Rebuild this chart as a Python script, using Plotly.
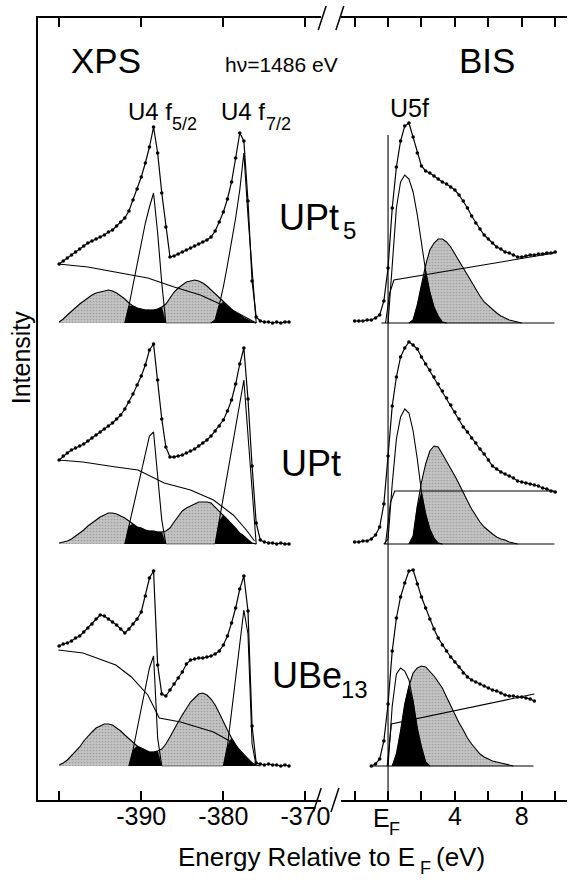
import numpy as np
import plotly.graph_objects as go

# ---------------- data (intensities in arbitrary units, baseline = 0) ----------------
xps_e = [-400, -399.5, -399, -398.5, -398, -397.5, -397, -396.5, -396, -395.5, -395, -394.5,
         -394, -393.5, -393, -392.5, -392, -391.5, -391, -390.5, -390, -389.5, -389, -388.5,
         -388, -387.5, -387, -386.5, -386, -385.5, -385, -384.5, -384, -383.5, -383, -382.5,
         -382, -381.5, -381, -380.5, -380, -379.5, -379, -378.5, -378, -377.5, -377, -376.5,
         -376, -375.5, -375, -374.5, -374, -373.5, -373, -372.5, -372]

bis_e = [-2, -1.75, -1.5, -1.25, -1, -0.75, -0.5, -0.25, 0, 0.25, 0.5, 0.75, 1, 1.25, 1.5, 1.75,
         2, 2.25, 2.5, 2.75, 3, 3.25, 3.5, 3.75, 4, 4.25, 4.5, 4.75, 5, 5.25, 5.5, 5.75,
         6, 6.25, 6.5, 6.75, 7, 7.25, 7.5, 7.75, 8, 8.25, 8.5, 8.75, 9, 9.25, 9.5, 9.75, 10]

# --- UPt5, XPS
upt5_xps_spec = [59, 62, 65, 68, 71, 74, 77, 80, 82, 84, 86, 88, 91, 93, 97, 101, 105, 112, 123,
                 134, 146, 160, 176, 196, 170, 130, 96, 66, 67, 69, 71, 73, 75, 77, 79, 81, 83,
                 86, 92, 101, 111, 124, 141, 165, 190, 182, 122, 42, 6, 2, 1, 1, 0, 1, 0, 1, 1]
upt5_xps_sat = [1, 4, 8, 12, 16, 19, 22, 25, 28, 30, 31, 32, 33, 32, 30, 27, 24, 20, 17, 15, 14,
                13, 13, 13, 14, 16, 19, 25, 31, 35, 38, 41, 42, 43, 42, 40, 37, 33, 29, 25, 21,
                17, 14, 10, 8, 5, 3, 1] + [0] * 9
upt5_xps_f52 = [0] * 16 + [0, 17, 38, 59, 80, 100, 116, 130, 90, 40, 0] + [0] * 30
upt5_xps_f72 = [0] * 38 + [3, 18, 36, 58, 80, 105, 133, 170, 107, 50, 0] + [0] * 8
upt5_xps_bg_e = [-400.1, -396.5, -393.2, -389.2, -386, -382.8, -379.6, -376.4, -376]
upt5_xps_bg = [59, 56, 51, 45, 36, 28, 16, 2, 0]

# --- UPt, XPS
upt_xps_spec = [84, 88, 91, 94, 96, 98, 100, 103, 106, 109, 112, 115, 118, 121, 125, 129, 135,
                142, 150, 159, 168, 179, 194, 200, 164, 125, 97, 87, 87, 88, 89, 91, 93, 95, 98,
                101, 104, 108, 113, 118, 124, 133, 144, 160, 180, 196, 145, 78, 21, 4, 2, 1, 1,
                0, 1, 0, 0]
upt_xps_sat = [1, 2, 3, 5, 8, 11, 14, 18, 21, 24, 27, 29, 31, 31, 30, 28, 26, 23, 20, 17, 16,
               14, 13, 13, 12, 12, 13, 16, 22, 28, 33, 36, 38, 40, 42, 42, 42, 41, 37, 33, 29,
               25, 20, 16, 11, 8, 4, 1] + [0] * 9
upt_xps_f52 = [0] * 16 + [0, 18, 36, 54, 72, 90, 108, 112, 64, 24, 0] + [0] * 30
upt_xps_f72 = [0] * 38 + [0, 23, 47, 70, 94, 117, 141, 164, 109, 55, 0] + [0] * 8
upt_xps_bg_e = [-400.1, -397.1, -393.1, -390.4, -387.2, -384.0, -381.2, -378.8, -377.2, -376.2]
upt_xps_bg = [84, 82, 77, 74, 61, 54, 44, 29, 14, 3]

# --- UBe13, XPS
ube13_xps_spec = [120, 122, 123, 125, 128, 130, 134, 138, 142, 147, 151, 150, 147, 144, 141,
                  137, 133, 137, 142, 147, 154, 170, 188, 195, 101, 72, 70, 76, 82, 88, 94, 102,
                  106, 107, 108, 108, 109, 110, 112, 115, 121, 130, 143, 158, 177, 190, 155, 40,
                  3, 2, 1, 2, 1, 1, 0, 1, 0]
ube13_xps_sat = [1, 3, 6, 10, 14, 19, 25, 30, 34, 38, 40, 42, 42, 41, 38, 35, 31, 27, 23, 20,
                 18, 16, 14, 14, 15, 17, 22, 29, 37, 44, 51, 57, 64, 68, 72, 73, 71, 67, 61, 53,
                 44, 36, 28, 21, 15, 10, 6, 3, 1] + [0] * 8
ube13_xps_f52 = [0] * 17 + [0, 16, 37, 57, 77, 98, 110, 28, 0] + [0] * 31
ube13_xps_f72 = [0] * 40 + [0, 20, 54, 88, 122, 156, 132, 22, 0] + [0] * 8
ube13_xps_bg_e = [-400.1, -397.1, -393.1, -391.2, -389.2, -387.8, -385.2, -381.2, -378.8, -376.4]
ube13_xps_bg = [116, 113, 101, 89, 71, 48, 44, 34, 23, 2]

# --- UPt5, BIS
upt5_bis_spec = [2, 2, 2, 3, 3, 5, 8, 22, 55, 115, 156, 182, 197, 200, 186, 170, 157, 152, 150,
                 147, 144, 141, 139, 136, 133, 128, 122, 115, 107, 100, 94, 88, 84, 80, 76, 74,
                 71, 70, 68, 66, 66, 67, 68, 68, 69, 69, 70, 70, 71]
upt5_bis_5f = [0] * 8 + [0, 54, 115, 141, 148, 144, 131, 108, 78, 52, 31, 16, 7, 1] + [0] * 27
upt5_bis_sat = [0] * 14 + [3, 18, 38, 58, 73, 80, 84, 84, 81, 76, 69, 62, 55, 48, 40, 33, 27,
                           21, 17, 13, 10, 7, 5, 3, 2, 1] + [0] * 9
upt5_bis_bg_e = [-0.15, 0.1, 0.35, 9.95]
upt5_bis_bg = [0, 30, 43, 70]
upt5_bis_base_e = [-0.4, 9.95]

# --- UPt, BIS
upt_bis_spec = [2, 2, 3, 3, 5, 9, 17, 40, 88, 138, 167, 187, 196, 202, 199, 195, 187, 180, 174,
                167, 160, 153, 146, 139, 132, 125, 117, 112, 106, 101, 95, 90, 84, 78, 75, 72,
                70, 68, 66, 63, 62, 61, 60, 59, 58, 56, 55, 53, 52]
upt_bis_5f = [0] * 8 + [5, 60, 105, 127, 135, 131, 113, 85, 52, 30, 15, 6, 1] + [0] * 28
upt_bis_sat = [0] * 14 + [8, 38, 62, 80, 93, 98, 97, 90, 83, 76, 68, 60, 51, 43, 35, 28, 22,
                          17, 13, 10, 7, 5, 4, 2, 1] + [0] * 10
upt_bis_bg_e = [-0.15, 0.15, 0.4, 9.95]
upt_bis_bg = [0, 42, 53, 53]
upt_bis_base_e = [-0.25, 9.95]

# --- UBe13, BIS
ube13_bis_spec_e = [-1, -0.75, -0.5, -0.25, 0, 0.25, 0.5, 0.75, 1, 1.25, 1.5, 1.75, 2, 2.25,
                    2.5, 2.75, 3, 3.25, 3.5, 3.75, 4, 4.25, 4.5, 4.75, 5, 5.25, 5.5, 5.75, 6,
                    6.25, 6.5, 6.75, 7, 7.25, 7.5, 7.75, 8, 8.25, 8.5, 8.75]
ube13_bis_spec = [0, 2, 7, 25, 62, 115, 148, 169, 183, 195, 196, 182, 169, 158, 147, 137, 128,
                  121, 115, 109, 104, 99, 93, 89, 86, 84, 82, 80, 78, 76, 75, 73, 71, 70, 70,
                  69, 69, 68, 67, 65]
ube13_bis_5f = [0] * 8 + [0, 60, 92, 98, 95, 86, 65, 38, 19, 4, 0] + [0] * 30
ube13_bis_sat = [0] * 10 + [12, 35, 62, 80, 93, 98, 100, 99, 95, 90, 84, 78, 69, 60, 51, 43, 36,
                            28, 22, 17, 12, 9, 7, 5, 4, 3, 2, 1] + [0] * 11
ube13_bis_bg_e = [-0.05, 0.2, 8.75]
ube13_bis_bg = [0, 42, 72]
ube13_bis_base_e = [-1.0, 8.7]

xps_tick_vals = [-390, -380, -370]
xps_tick_text = ["-390", "-380", "-370"]
xps_minor_ticks = [-400]
bis_tick_vals = [4, 8]
bis_tick_text = ["4", "8"]
bis_minor_ticks = [-2, 0, 2, 6, 10]

# ---------------- styling helpers ----------------
W, H = 576, 880
ML, MR, MT, MB = 38, 0, 18, 80
PW, PH = W - ML - MR, H - MT - MB


def px(x):
    return (x - ML) / PW


def py(y):
    return (H - MB - y) / PH


GREY = "rgb(196,196,196)"
LW = 1.1

fig = go.Figure()


def support(vals):
    nz = [i for i, v in enumerate(vals) if v > 0]
    lo = max(nz[0] - 1, 0)
    hi = min(nz[-1] + 2, len(vals))
    return lo, hi


def add_panel(xa, ya, e, sat, peaks, bg_e, bg, spec_e, spec, base_e=None):
    e = np.array(e, dtype=float)
    sat = np.array(sat, dtype=float)
    main = np.max(np.array(peaks, dtype=float), axis=0)
    black = np.minimum(sat, main)
    lo, hi = support(sat)
    fig.add_trace(go.Scatter(x=e[lo:hi], y=sat[lo:hi], mode="lines", fill="tozeroy",
                             fillcolor=GREY,
                             fillpattern=dict(shape=".", bgcolor=GREY, fgcolor="rgb(120,120,120)",
                                              size=3, solidity=0.25),
                             line=dict(color="black", width=LW),
                             xaxis=xa, yaxis=ya, hoverinfo="skip"))
    lo, hi = support(black)
    fig.add_trace(go.Scatter(x=e[lo:hi], y=black[lo:hi], mode="lines", fill="tozeroy",
                             fillcolor="black", line=dict(color="black", width=0.5),
                             xaxis=xa, yaxis=ya, hoverinfo="skip"))
    for p in peaks:
        p = np.array(p, dtype=float)
        lo, hi = support(p)
        fig.add_trace(go.Scatter(x=e[lo:hi], y=p[lo:hi], mode="lines",
                                 line=dict(color="black", width=LW),
                                 xaxis=xa, yaxis=ya, hoverinfo="skip"))
    if base_e is not None:
        fig.add_trace(go.Scatter(x=base_e, y=[0, 0], mode="lines",
                                 line=dict(color="black", width=LW),
                                 xaxis=xa, yaxis=ya, hoverinfo="skip"))
    fig.add_trace(go.Scatter(x=bg_e, y=bg, mode="lines", line=dict(color="black", width=LW),
                             xaxis=xa, yaxis=ya, hoverinfo="skip"))
    fig.add_trace(go.Scatter(x=spec_e, y=spec, mode="lines+markers",
                             line=dict(color="black", width=1.2),
                             marker=dict(color="black", size=3.6),
                             xaxis=xa, yaxis=ya, hoverinfo="skip"))


# rows: y4 = UPt5 (top), y3 = UPt, y2 = UBe13
add_panel("x", "y4", xps_e, upt5_xps_sat, [upt5_xps_f52, upt5_xps_f72],
          upt5_xps_bg_e, upt5_xps_bg, xps_e, upt5_xps_spec)
add_panel("x", "y3", xps_e, upt_xps_sat, [upt_xps_f52, upt_xps_f72],
          upt_xps_bg_e, upt_xps_bg, xps_e, upt_xps_spec)
add_panel("x", "y2", xps_e, ube13_xps_sat, [ube13_xps_f52, ube13_xps_f72],
          ube13_xps_bg_e, ube13_xps_bg, xps_e, ube13_xps_spec)
add_panel("x2", "y4", bis_e, upt5_bis_sat, [upt5_bis_5f],
          upt5_bis_bg_e, upt5_bis_bg, bis_e, upt5_bis_spec, upt5_bis_base_e)
add_panel("x2", "y3", bis_e, upt_bis_sat, [upt_bis_5f],
          upt_bis_bg_e, upt_bis_bg, bis_e, upt_bis_spec, upt_bis_base_e)
add_panel("x2", "y2", bis_e, ube13_bis_sat, [ube13_bis_5f],
          ube13_bis_bg_e, ube13_bis_bg, ube13_bis_spec_e, ube13_bis_spec, ube13_bis_base_e)

# empty traces so the frame subplots exist
fig.add_trace(go.Scatter(x=[], y=[], xaxis="x", yaxis="y"))
fig.add_trace(go.Scatter(x=[], y=[], xaxis="x2", yaxis="y"))

x_common = dict(anchor="y", showline=True, linecolor="black", linewidth=1.5, mirror="ticks",
                ticks="inside", ticklen=9, tickwidth=1.5, tickcolor="black",
                ticklabelstandoff=-7,
                showgrid=False, zeroline=False, tickfont=dict(size=25, color="black"),
                fixedrange=True)
minor_common = dict(ticks="inside", ticklen=9, tickwidth=1.5, tickcolor="black", showgrid=False)
row_y = dict(range=[-12, 212], anchor="x", visible=False, fixedrange=True)


def row_dom(base_px):
    b = py(base_px + 12)
    return [b, b + 224 / PH]


fig.update_layout(
    width=W, height=H, margin=dict(l=ML, r=MR, t=MT, b=MB, pad=0),
    paper_bgcolor="white", plot_bgcolor="white", showlegend=False,
    font=dict(family="Liberation Sans, Arial, sans-serif", color="black"),
    xaxis=dict(domain=[0, px(326)], range=[-390 + (ML - 143) / 8.35, -390 + (326 - 143) / 8.35],
               tickvals=xps_tick_vals, ticktext=xps_tick_text,
               minor=dict(tickvals=xps_minor_ticks, **minor_common), **x_common),
    xaxis2=dict(domain=[px(346), 1], range=[(346 - 394) / 17, (576 - 394) / 17],
                tickvals=bis_tick_vals, ticktext=bis_tick_text,
                minor=dict(tickvals=bis_minor_ticks, **minor_common), **x_common),
    yaxis=dict(domain=[0, 1], range=[0, 1], anchor="x", showline=True, linecolor="black",
               linewidth=1.5, showticklabels=False, ticks="", showgrid=False, zeroline=False,
               fixedrange=True),
    yaxis2=dict(domain=row_dom(766), **row_y),
    yaxis3=dict(domain=row_dom(544), **row_y),
    yaxis4=dict(domain=row_dom(323), **row_y),
)

# axis-break slashes and E_F marker line
shapes = []
for (x0, y0, x1, y1) in [(323, 30, 331, 6), (341, 30, 349, 6),
                         (318, 812, 326, 788), (336, 812, 344, 788)]:
    shapes.append(dict(type="line", xref="paper", yref="paper", x0=px(x0), y0=py(y0),
                       x1=px(x1), y1=py(y1), line=dict(color="black", width=1.5)))
shapes.append(dict(type="line", xref="x2", yref="paper", x0=0, x1=0, y0=0, y1=py(135),
                   line=dict(color="black", width=1.1)))
fig.update_layout(shapes=shapes)

ann = []


def text(x, y, s, size, xanchor="center", yanchor="middle", angle=0):
    ann.append(dict(x=px(x), y=py(y), xref="paper", yref="paper", text=s, showarrow=False,
                    font=dict(size=size, color="black"), xanchor=xanchor, yanchor=yanchor,
                    textangle=angle))


text(107, 60, "XPS", 35)
text(495, 60, "BIS", 35)
text(286, 65, "hν=1486 eV", 21)
# core-level labels (subscripts drawn as separate smaller texts)
text(128, 112, "U4 f", 24, xanchor="left")
text(172, 124, "5/2", 18, xanchor="left")
text(222, 112, "U4 f", 24, xanchor="left")
text(268, 124, "7/2", 18, xanchor="left")
text(416, 108, "U5f", 25)
# compound labels
text(281, 217, "UPt", 36, xanchor="left")
text(346, 230, "5", 24, xanchor="left")
text(283, 463, "UPt", 36, xanchor="left")
text(274, 675, "UBe", 36, xanchor="left")
text(344, 689, "13", 24, xanchor="left")
# E_F tick label at 0 eV
text(387, 818, "E", 25)
text(401, 829, "F", 18)
# axis titles
text(21, 357, "Intensity", 25, angle=-90)
text(423, 857, "Energy Relative to E", 26, xanchor="right")
text(424, 868, "F", 18, xanchor="left")
text(441, 857, "(eV)", 26, xanchor="left")
fig.update_layout(annotations=ann)

fig.write_html("out.html")
